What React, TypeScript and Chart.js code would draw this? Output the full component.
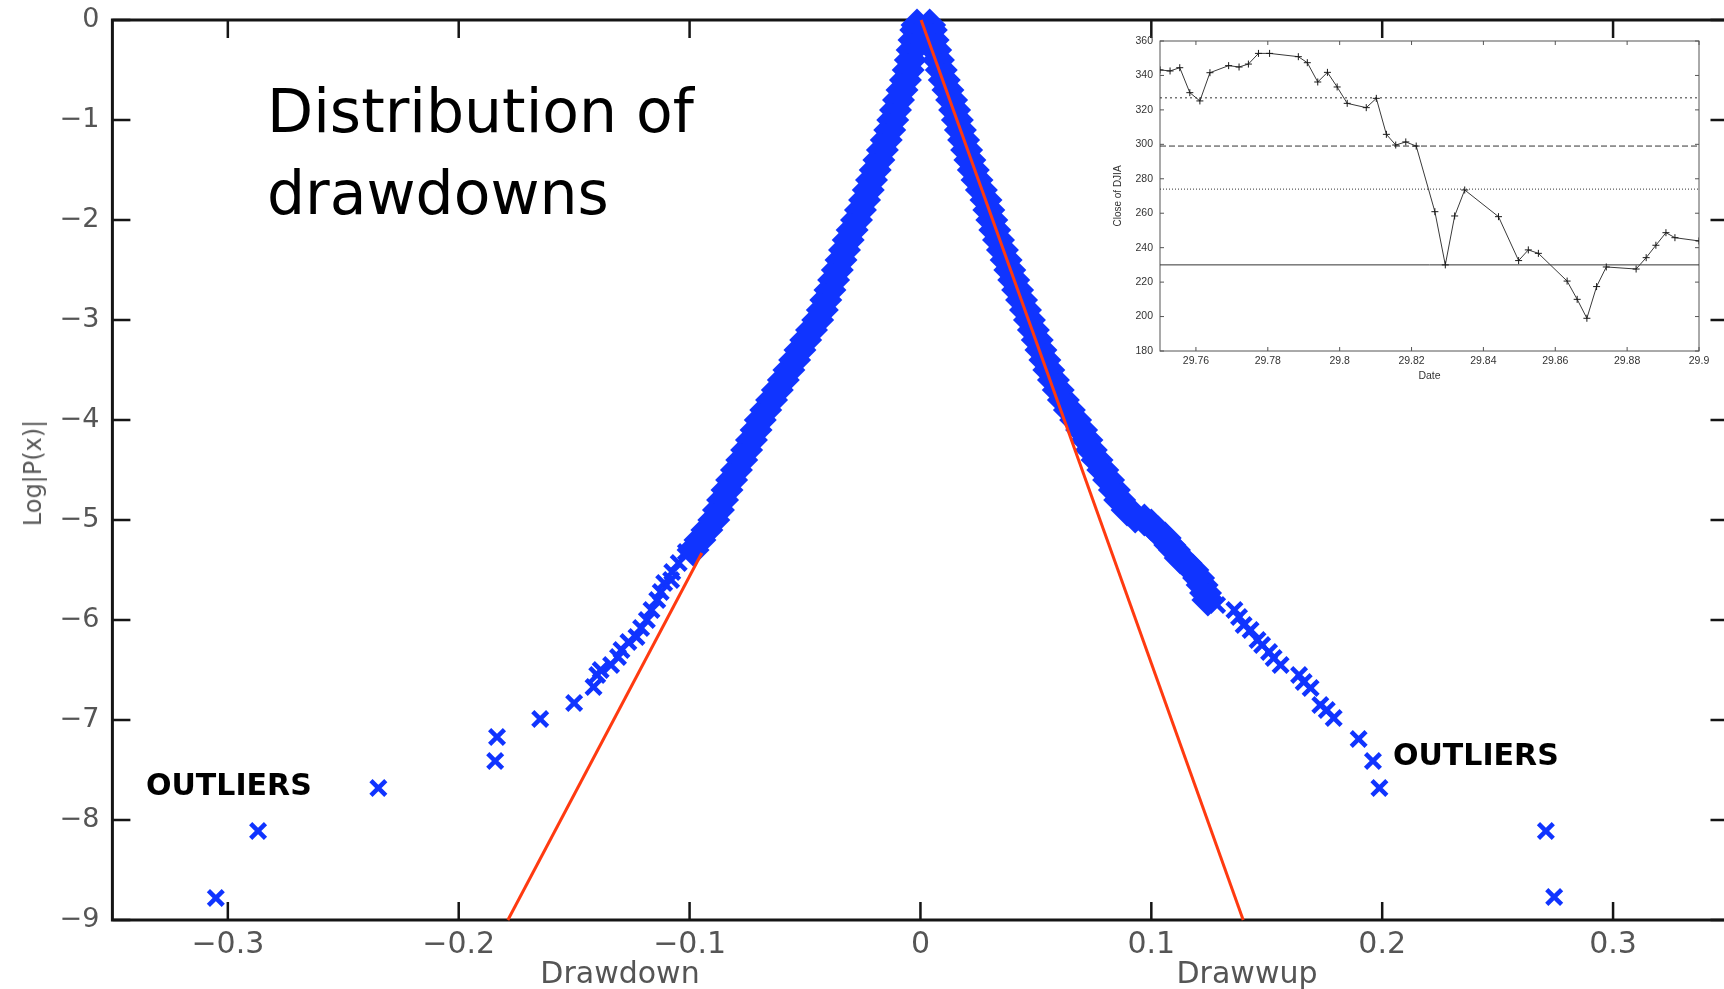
import React, { useEffect, useRef } from "react";
import { Chart, registerables } from "chart.js";

Chart.register(...registerables);

// ---------- main chart data (x = drawdown / drawup, y = log|P(x)|) ----------
const xTicks = [-0.3, -0.2, -0.1, 0, 0.1, 0.2, 0.3];
const yTicks = [0, -1, -2, -3, -4, -5, -6, -7, -8, -9];

const leftCore: [number, number][] = [
  [-0.0015, -0.05], [-0.002, -0.1], [-0.0028, -0.2], [-0.0036, -0.3], [-0.0044, -0.4],
  [-0.0053, -0.5], [-0.0065, -0.6], [-0.008, -0.7], [-0.0095, -0.8], [-0.0108, -0.9],
  [-0.012, -1.0], [-0.0133, -1.1], [-0.0148, -1.2], [-0.0165, -1.3], [-0.018, -1.4],
  [-0.0196, -1.5], [-0.0212, -1.6], [-0.0226, -1.7], [-0.0242, -1.8], [-0.026, -1.9],
  [-0.0277, -2.0], [-0.0296, -2.1], [-0.0313, -2.2], [-0.0329, -2.3], [-0.0344, -2.4],
  [-0.036, -2.5], [-0.0376, -2.6], [-0.0392, -2.7], [-0.041, -2.8], [-0.0425, -2.9],
  [-0.0445, -3.0], [-0.0472, -3.1], [-0.0497, -3.2], [-0.0522, -3.3], [-0.0545, -3.4],
  [-0.057, -3.5], [-0.0594, -3.6], [-0.062, -3.7], [-0.0645, -3.8], [-0.067, -3.9],
  [-0.0694, -4.0], [-0.0712, -4.1], [-0.0732, -4.2], [-0.0753, -4.3], [-0.0774, -4.4],
  [-0.0797, -4.5], [-0.0818, -4.6], [-0.0838, -4.7], [-0.0857, -4.8], [-0.0875, -4.9],
  [-0.0895, -5.0], [-0.0925, -5.1], [-0.0955, -5.2], [-0.0985, -5.3],
];

const leftTail: [number, number][] = [
  [-0.1016, -5.32], [-0.1047, -5.43], [-0.1075, -5.52], [-0.108, -5.6], [-0.111, -5.63],
  [-0.1125, -5.72], [-0.114, -5.8], [-0.1165, -5.9], [-0.1185, -6.0], [-0.121, -6.08],
  [-0.123, -6.17], [-0.1265, -6.22], [-0.1295, -6.3], [-0.131, -6.37], [-0.134, -6.45],
  [-0.1385, -6.5], [-0.14, -6.55], [-0.1416, -6.67], [-0.15, -6.83], [-0.1647, -6.99],
  [-0.1834, -7.17], [-0.1842, -7.41], [-0.2348, -7.68], [-0.2869, -8.11], [-0.3052, -8.78],
];

const rightCore: [number, number][] = [
  [0.004, -0.05], [0.0047, -0.1], [0.0055, -0.2], [0.0066, -0.3], [0.0078, -0.4],
  [0.009, -0.5], [0.0103, -0.6], [0.0119, -0.7], [0.0135, -0.8], [0.0148, -0.9],
  [0.016, -1.0], [0.0173, -1.1], [0.0187, -1.2], [0.02, -1.3], [0.0214, -1.4],
  [0.0229, -1.5], [0.0245, -1.6], [0.0264, -1.7], [0.0284, -1.8], [0.0296, -1.9],
  [0.0309, -2.0], [0.0322, -2.1], [0.0338, -2.2], [0.0355, -2.3], [0.0371, -2.4],
  [0.0387, -2.5], [0.0404, -2.6], [0.0421, -2.7], [0.0438, -2.8], [0.0455, -2.9],
  [0.0472, -3.0], [0.0489, -3.1], [0.0506, -3.2], [0.0522, -3.3], [0.0539, -3.4],
  [0.0556, -3.5], [0.0576, -3.6], [0.0597, -3.7], [0.0619, -3.8], [0.0645, -3.9],
  [0.0672, -4.0], [0.0698, -4.1], [0.0721, -4.2], [0.074, -4.3], [0.0765, -4.4],
  [0.079, -4.5], [0.0815, -4.6], [0.084, -4.7], [0.0863, -4.8], [0.0895, -4.9],
  [0.093, -4.97], [0.097, -5.0], [0.1, -5.05], [0.103, -5.12], [0.106, -5.18],
  [0.108, -5.25], [0.11, -5.3], [0.1125, -5.38], [0.115, -5.43], [0.118, -5.5],
  [0.1205, -5.58], [0.122, -5.65], [0.1235, -5.73], [0.1245, -5.8],
];

const rightTail: [number, number][] = [
  [0.1285, -5.85], [0.136, -5.9], [0.138, -5.97], [0.14, -6.05], [0.143, -6.1],
  [0.146, -6.2], [0.148, -6.25], [0.151, -6.32], [0.153, -6.38], [0.156, -6.45],
  [0.164, -6.55], [0.166, -6.62], [0.169, -6.68], [0.1732, -6.85], [0.176, -6.9],
  [0.179, -6.98], [0.1898, -7.19], [0.196, -7.41], [0.1988, -7.68], [0.2709, -8.11],
  [0.2745, -8.77],
];

const fitLeftX = [-0.1787, -0.0947];
const fitLeftY = [-9, -5.33];
const fitRightX = [0.0003, 0.1398];
const fitRightY = [0, -9];

// ---------- inset data ----------
const insetXTicks = [29.76, 29.78, 29.8, 29.82, 29.84, 29.86, 29.88, 29.9];
const djiaDate = [
  29.75, 29.7528, 29.7555, 29.7583, 29.7611, 29.7639, 29.7691, 29.772, 29.7746, 29.7774,
  29.7805, 29.7885, 29.791, 29.7939, 29.7966, 29.7993, 29.8021, 29.8074, 29.8102, 29.813,
  29.8156, 29.8184, 29.8213, 29.8265, 29.8294, 29.832, 29.8348, 29.8442, 29.8498, 29.8525,
  29.8553, 29.8633, 29.8661, 29.8688, 29.8715, 29.8742, 29.8825, 29.8853, 29.888, 29.8908,
  29.8933, 29.9,
];
const djiaClose = [
  343.2, 342.6, 344.5, 330.0, 325.2, 341.6, 345.7, 344.9, 346.6, 352.8,
  352.8, 350.9, 347.4, 336.2, 341.8, 333.3, 323.8, 321.3, 326.7, 305.8,
  299.6, 301.4, 299.0, 260.9, 230.0, 258.4, 273.5, 258.0, 232.5, 238.7,
  236.7, 220.6, 210.0, 199.0, 217.4, 228.8, 227.6, 234.2, 241.4, 248.7,
  245.8, 243.9,
];
const levelValues = [327, 299, 274, 230];
const levelDashes = [[2, 3], [6, 3], [1, 2], []];

const BLUE = "#1034ff";
const RED = "#ff3a10";

const pts = (a: [number, number][]) => a.map(([x, y]) => ({ x, y }));
const zip = (xs: number[], ys: number[]) => xs.map((x, i) => ({ x, y: ys[i] }));
const fmt = (v: number) => (v < 0 ? "\u2212" + String(Math.abs(v)) : String(v));

function framePlugin(id: string, lw: number, tlw: number, len: number, color: string) {
  return {
    id,
    beforeDatasetsDraw(chart: any) {
      const { ctx, chartArea: a, scales } = chart;
      const xs = scales.x;
      const ys = scales.y;
      ctx.save();
      ctx.strokeStyle = color;
      ctx.lineWidth = tlw;
      ctx.beginPath();
      xs.ticks.forEach((t: any) => {
        const p = xs.getPixelForValue(t.value);
        ctx.moveTo(p, a.bottom);
        ctx.lineTo(p, a.bottom - len);
        ctx.moveTo(p, a.top);
        ctx.lineTo(p, a.top + len);
      });
      ys.ticks.forEach((t: any) => {
        const p = ys.getPixelForValue(t.value);
        ctx.moveTo(a.left, p);
        ctx.lineTo(a.left + len, p);
        ctx.moveTo(a.right, p);
        ctx.lineTo(a.right - len, p);
      });
      ctx.stroke();
      ctx.lineWidth = lw;
      ctx.strokeRect(a.left, a.top, a.right - a.left, a.bottom - a.top);
      ctx.restore();
    },
  };
}

const fitH = (h: number) => (s: any) => {
  s.height = h;
  s.paddingLeft = 0;
  s.paddingRight = 0;
};
const fitW = (w: number) => (s: any) => {
  s.width = w;
  s.paddingTop = 0;
  s.paddingBottom = 0;
};

export default function App() {
  const mainRef = useRef<HTMLCanvasElement>(null);
  const insetRef = useRef<HTMLCanvasElement>(null);

  useEffect(() => {
    const main = new Chart(mainRef.current!, {
      type: "scatter",
      data: {
        datasets: [
          {
            data: zip(fitRightX, fitRightY),
            showLine: true,
            borderColor: RED,
            borderWidth: 3,
            pointRadius: 0,
            order: 0,
            clip: false,
          } as any,
          {
            data: zip(fitLeftX, fitLeftY),
            showLine: true,
            borderColor: RED,
            borderWidth: 3,
            pointRadius: 0,
            order: 0,
            clip: false,
          },
          {
            data: [...pts(leftCore), ...pts(rightCore)],
            pointStyle: "rectRot",
            pointRadius: 16.5,
            pointBorderWidth: 0,
            borderColor: BLUE,
            backgroundColor: BLUE,
            order: 1,
            clip: false,
          },
          {
            data: [...pts(leftTail), ...pts(rightTail)],
            pointStyle: "crossRot",
            pointRadius: 10.5,
            pointBorderWidth: 4.5,
            borderColor: BLUE,
            backgroundColor: BLUE,
            order: 2,
            clip: false,
          },
        ],
      },
      options: {
        responsive: false,
        animation: false,
        events: [],
        layout: { padding: { left: 0, top: 20, right: 11.4, bottom: 0 } },
        plugins: { legend: { display: false }, tooltip: { enabled: false } },
        scales: {
          x: {
            type: "linear",
            min: -0.35,
            max: 0.35,
            afterBuildTicks: (s: any) => {
              s.ticks = xTicks.map((v) => ({ value: v }));
            },
            afterFit: fitH(69),
            grid: { display: false, drawTicks: false },
            border: { display: false },
            ticks: {
              padding: 7,
              autoSkip: false,
              maxRotation: 0,
              color: "#555555",
              font: { family: "'DejaVu Sans', sans-serif", size: 30 },
              callback: (v: any) => fmt(Number(v)),
            },
          },
          y: {
            type: "linear",
            min: -9,
            max: 0,
            afterBuildTicks: (s: any) => {
              s.ticks = yTicks.map((v) => ({ value: v }));
            },
            afterFit: fitW(112.4),
            grid: { display: false, drawTicks: false },
            border: { display: false },
            ticks: {
              padding: 13,
              autoSkip: false,
              color: "#555555",
              font: { family: "'DejaVu Sans', sans-serif", size: 27 },
              callback: (v: any) => fmt(Number(v)),
            },
          },
        },
      },
      plugins: [framePlugin("mainFrame", 3, 2.5, 18, "#151515")],
    });

    const inset = new Chart(insetRef.current!, {
      type: "scatter",
      data: {
        datasets: [
          {
            data: zip(djiaDate, djiaClose),
            showLine: true,
            borderColor: "#3a3a3a",
            borderWidth: 1,
            pointStyle: "cross",
            pointRadius: 3.5,
            pointBorderWidth: 1,
            pointBorderColor: "#1a1a1a",
            order: 0,
          } as any,
          ...levelValues.map((lv, i) => ({
            data: [
              { x: 29.75, y: lv },
              { x: 29.9, y: lv },
            ],
            showLine: true,
            pointRadius: 0,
            borderColor: "#333",
            borderWidth: 1,
            borderDash: levelDashes[i],
            order: 1,
          })),
        ],
      },
      options: {
        responsive: false,
        animation: false,
        events: [],
        layout: { padding: { left: 0, top: 16, right: 13, bottom: 0 } },
        plugins: { legend: { display: false }, tooltip: { enabled: false } },
        scales: {
          x: {
            type: "linear",
            min: 29.75,
            max: 29.9,
            afterBuildTicks: (s: any) => {
              s.ticks = insetXTicks.map((v) => ({ value: v }));
            },
            afterFit: fitH(39),
            grid: { display: false, drawTicks: false },
            border: { display: false },
            ticks: {
              padding: 4,
              autoSkip: false,
              maxRotation: 0,
              color: "#333",
              font: { family: "'Liberation Sans', Arial, sans-serif", size: 10.5 },
              callback: (v: any) => String(Number(Number(v).toFixed(2))),
            },
            title: {
              display: true,
              text: "Date",
              color: "#333",
              font: { family: "'Liberation Sans', Arial, sans-serif", size: 10.5 },
              padding: { top: 0, bottom: 8 },
            },
          },
          y: {
            type: "linear",
            min: 180,
            max: 360,
            ticks: {
              stepSize: 20,
              padding: 7,
              color: "#333",
              font: { family: "'Liberation Sans', Arial, sans-serif", size: 10.5 },
            },
            afterFit: fitW(60),
            grid: { display: false, drawTicks: false },
            border: { display: false },
            title: {
              display: true,
              text: "Close of DJIA",
              color: "#333",
              font: { family: "'Liberation Sans', Arial, sans-serif", size: 10 },
              padding: { top: 12, bottom: 0 },
            },
          },
        },
      },
      plugins: [framePlugin("insetFrame", 1, 1, 4, "#555")],
    });

    return () => {
      main.destroy();
      inset.destroy();
    };
  }, []);

  const sans = "'DejaVu Sans', sans-serif";
  return (
    <div
      style={{
        position: "absolute",
        left: 0,
        top: 0,
        width: 1724,
        height: 989,
        overflow: "hidden",
        background: "#ffffff",
      }}
    >
      <canvas ref={mainRef} width={1745} height={989} style={{ position: "absolute", left: 0, top: 0 }} />
      <canvas ref={insetRef} width={612} height={365} style={{ position: "absolute", left: 1100, top: 25 }} />
      <div
        style={{
          position: "absolute",
          left: 267,
          top: 70,
          fontFamily: sans,
          fontSize: 60,
          lineHeight: "82px",
          color: "#000",
          whiteSpace: "nowrap",
        }}
      >
        Distribution of
        <br />
        drawdowns
      </div>
      <div
        style={{
          position: "absolute",
          left: 146,
          top: 769.6,
          fontFamily: sans,
          fontWeight: "bold",
          fontSize: 30,
          lineHeight: "30px",
          color: "#000",
          whiteSpace: "nowrap",
        }}
      >
        OUTLIERS
      </div>
      <div
        style={{
          position: "absolute",
          left: 1393,
          top: 739.6,
          fontFamily: sans,
          fontWeight: "bold",
          fontSize: 30,
          lineHeight: "30px",
          color: "#000",
          whiteSpace: "nowrap",
        }}
      >
        OUTLIERS
      </div>
      <div
        style={{
          position: "absolute",
          left: 620,
          top: 958,
          transform: "translateX(-50%)",
          fontFamily: sans,
          fontSize: 30,
          lineHeight: "30px",
          color: "#555",
          whiteSpace: "nowrap",
        }}
      >
        Drawdown
      </div>
      <div
        style={{
          position: "absolute",
          left: 1247,
          top: 958,
          transform: "translateX(-50%)",
          fontFamily: sans,
          fontSize: 30,
          lineHeight: "30px",
          color: "#555",
          whiteSpace: "nowrap",
        }}
      >
        Drawwup
      </div>
      <div
        style={{
          position: "absolute",
          left: 33,
          top: 473,
          transform: "translate(-50%, -50%) rotate(-90deg)",
          fontFamily: sans,
          fontSize: 24,
          lineHeight: "24px",
          color: "#5a5a5a",
          whiteSpace: "nowrap",
        }}
      >
        Log|P(x)|
      </div>
    </div>
  );
}
